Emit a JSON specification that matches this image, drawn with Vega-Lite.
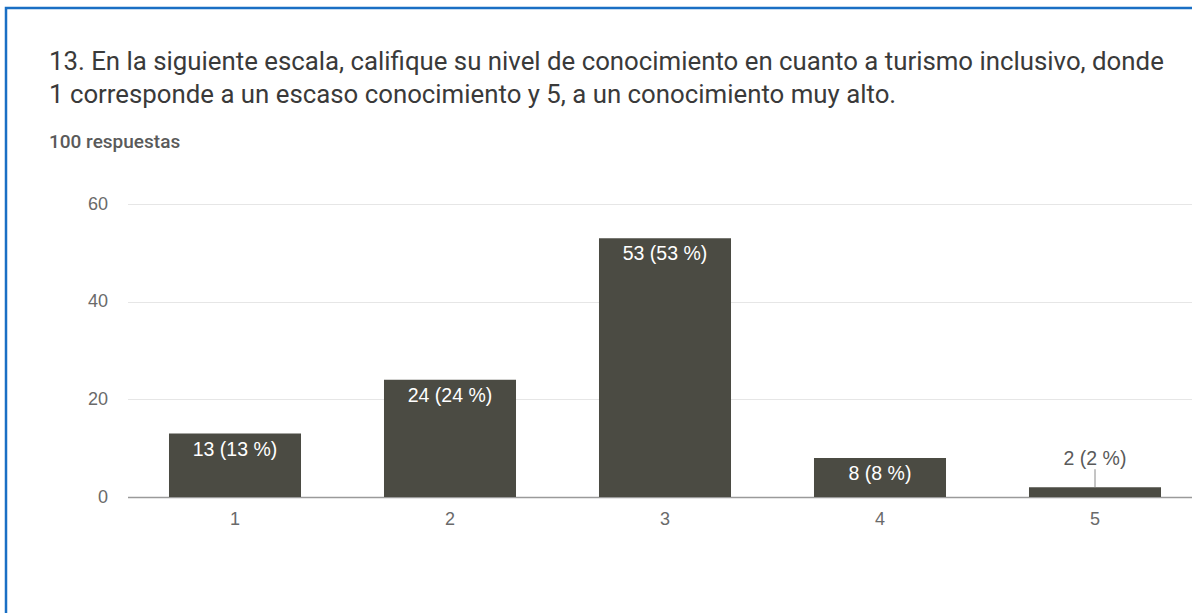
{
  "$schema": "https://vega.github.io/schema/vega-lite/v6.json",
  "width": 1200,
  "height": 620,
  "autosize": "none",
  "padding": {"left": 6, "top": 8, "right": 0, "bottom": 0},
  "background": "white",
  "view": {"stroke": "#1a6fc4", "strokeWidth": 2.5, "fill": "white"},
  "title": {
    "text": [
      "13. En la siguiente escala, califique su nivel de conocimiento en cuanto a turismo inclusivo, donde",
      "1 corresponde a un escaso conocimiento y 5, a un conocimiento muy alto."
    ],
    "subtitle": "100 respuestas",
    "anchor": "start",
    "frame": "group",
    "orient": "top",
    "font": "Roboto",
    "fontSize": 25.8,
    "fontWeight": "normal",
    "color": "#3a3a3a",
    "lineHeight": 33,
    "subtitleFont": "Roboto",
    "subtitleFontSize": 19,
    "subtitleFontWeight": 500,
    "subtitleColor": "#5a5a5a",
    "subtitlePadding": 24,
    "dx": 43,
    "dy": 149
  },
  "data": {
    "values": [
      {"nivel": "1", "respuestas": 13, "etiqueta": "13 (13 %)"},
      {"nivel": "2", "respuestas": 24, "etiqueta": "24 (24 %)"},
      {"nivel": "3", "respuestas": 53, "etiqueta": "53 (53 %)"},
      {"nivel": "4", "respuestas": 8, "etiqueta": "8 (8 %)"},
      {"nivel": "5", "respuestas": 2, "etiqueta": "2 (2 %)"}
    ]
  },
  "encoding": {
    "x": {
      "field": "nivel",
      "type": "nominal",
      "sort": null,
      "scale": {"range": [121.5, 1196.5], "paddingInner": 0.386, "paddingOuter": 0.193},
      "axis": {
        "orient": "bottom",
        "offset": -131,
        "title": null,
        "labelAngle": 0,
        "labelFont": "Liberation Sans",
        "labelFontSize": 18,
        "labelColor": "#6a6a6a",
        "labelPadding": 13,
        "ticks": false,
        "tickSize": 0,
        "domainColor": "#9a9a9a",
        "domainWidth": 1.5,
        "grid": false
      }
    },
    "y": {
      "field": "respuestas",
      "type": "quantitative",
      "scale": {"domain": [0, 60], "range": [489, 196], "nice": false, "zero": true},
      "axis": {
        "orient": "left",
        "offset": -121.5,
        "values": [0, 20, 40, 60],
        "title": null,
        "domain": false,
        "ticks": false,
        "tickSize": 0,
        "labelPadding": 20,
        "labelFont": "Liberation Sans",
        "labelFontSize": 18,
        "labelColor": "#6a6a6a",
        "grid": true,
        "gridColor": "#e6e6e6",
        "gridWidth": 1
      }
    }
  },
  "layer": [
    {
      "mark": {"type": "bar", "color": "#4b4b43"}
    },
    {
      "transform": [{"filter": "datum.respuestas >= 5"}],
      "mark": {"type": "text", "color": "white", "baseline": "top", "dy": 7, "font": "Liberation Sans", "fontSize": 19.5},
      "encoding": {"text": {"field": "etiqueta"}}
    },
    {
      "transform": [{"filter": "datum.respuestas < 5"}],
      "mark": {"type": "text", "color": "#5a5a5a", "baseline": "bottom", "dy": -18, "font": "Liberation Sans", "fontSize": 19.5},
      "encoding": {"text": {"field": "etiqueta"}}
    },
    {
      "transform": [{"filter": "datum.respuestas < 5"}],
      "mark": {"type": "rule", "color": "#8a8a8a", "strokeWidth": 1, "y2Offset": -18},
      "encoding": {
        "y2": {"field": "respuestas"}
      }
    }
  ]
}
